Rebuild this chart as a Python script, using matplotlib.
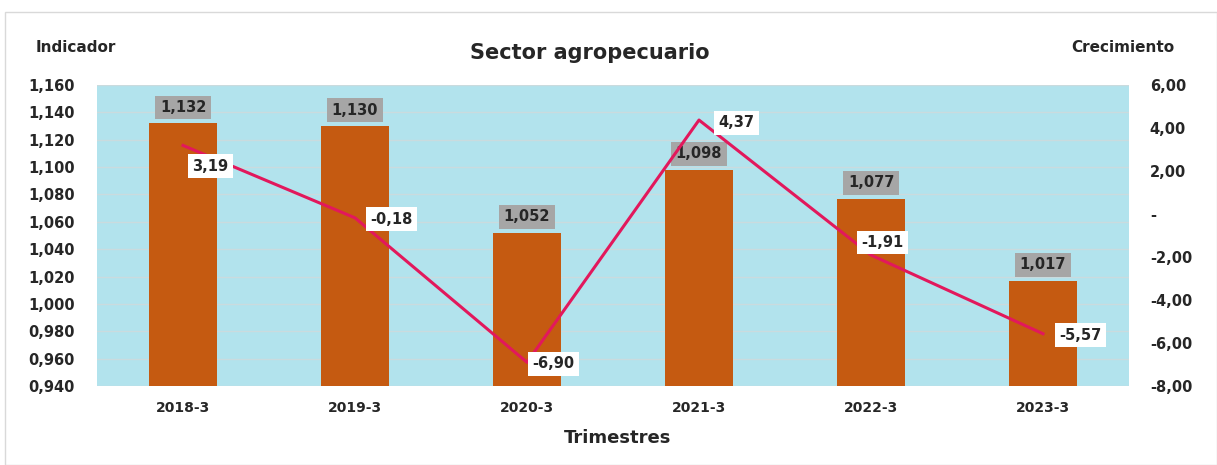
import matplotlib
matplotlib.use("Agg")
import matplotlib.pyplot as plt
import numpy as np
from matplotlib.patches import Rectangle

categories = ["2018-3", "2019-3", "2020-3", "2021-3", "2022-3", "2023-3"]
indicador = [1.132, 1.130, 1.052, 1.098, 1.077, 1.017]
crecimiento = [3.19, -0.18, -6.90, 4.37, -1.91, -5.57]
left_ticks = [0.940, 0.960, 0.980, 1.000, 1.020, 1.040, 1.060, 1.080, 1.100, 1.120, 1.140, 1.160]
right_ticks = [-8, -6, -4, -2, 0, 2, 4, 6]

plt.rcParams['font.family'] = ['DejaVu Sans']
TXT = '#262626'

fig = plt.figure(figsize=(12.17, 4.65), dpi=100)
W, H = 1217, 465
fig.patches.append(Rectangle((5/W, 0), 1 - 5/W, (465-12)/H, transform=fig.transFigure,
                             fill=False, edgecolor='#d9d9d9', lw=1.0))

ax = fig.add_axes([97/W, 1 - 386/H, (1129-97)/W, (386-85)/H])
ax.set_facecolor('#b2e3ed')
x = np.arange(len(categories))
ax.bar(x, indicador, width=0.4, color='#c55a11', zorder=3)
ax.set_ylim(0.940, 1.160)
ax.set_xlim(-0.5, len(categories) - 0.5)
ax.set_yticks(left_ticks)
ax.set_yticklabels([f"{v:.3f}".replace('.', ',') for v in left_ticks])
ax.set_xticks(x)
ax.set_xticklabels(categories)
for v in left_ticks:
    ax.axhline(v, color='#cadbde', lw=1.0, zorder=1)
for s in ax.spines.values():
    s.set_visible(False)
ax.tick_params(axis='y', length=0, labelsize=10.5, pad=16)
ax.tick_params(axis='x', length=0, labelsize=10, pad=11)
for lab in ax.get_xticklabels() + ax.get_yticklabels():
    lab.set_fontweight('bold')
    lab.set_color(TXT)

for xi, v in zip(x, indicador):
    ax.annotate(f"{v:.3f}".replace('.', ','), (xi, v), xytext=(0, 6), textcoords='offset points',
                ha='center', va='bottom', fontsize=10.5, fontweight='bold', color=TXT, zorder=5,
                bbox=dict(boxstyle='square,pad=0.3', fc='#a6a6a6', ec='none'))

ax2 = ax.twinx()
ax2.set_ylim(-8, 6)
ax2.set_yticks(right_ticks)
ax2.set_yticklabels(["-" if v == 0 else f"{v:.2f}".replace('.', ',') for v in right_ticks])
for s in ax2.spines.values():
    s.set_visible(False)
ax2.tick_params(length=0, labelsize=10.5, pad=15)
for lab in ax2.get_yticklabels():
    lab.set_fontweight('bold')
    lab.set_color(TXT)
ax2.plot(x, crecimiento, color='#e2185c', lw=2.2, zorder=4)

offsets = [(19.5, -15), (26, -1), (19, -1), (27, -2), (8, 9), (27, -1)]
for xi, v, off in zip(x, crecimiento, offsets):
    ax2.annotate(f"{v:.2f}".replace('.', ','), (xi, v), xytext=off, textcoords='offset points',
                 ha='center', va='center', fontsize=10.5, fontweight='bold', color=TXT, zorder=6,
                 bbox=dict(boxstyle='square,pad=0.3', fc='white', ec='none'))

fig.text(590/W, 1 - 53/H, "Sector agropecuario", ha='center', va='center', fontsize=15,
         fontweight='bold', color=TXT)
fig.text(76/W, 1 - 48/H, "Indicador", ha='center', va='center', fontsize=11, fontweight='bold', color=TXT)
fig.text(1123/W, 1 - 47/H, "Crecimiento", ha='center', va='center', fontsize=11, fontweight='bold', color=TXT)
fig.text(618/W, 1 - 438/H, "Trimestres", ha='center', va='center', fontsize=13, fontweight='bold', color=TXT)

fig.savefig("out.png", dpi=100)
